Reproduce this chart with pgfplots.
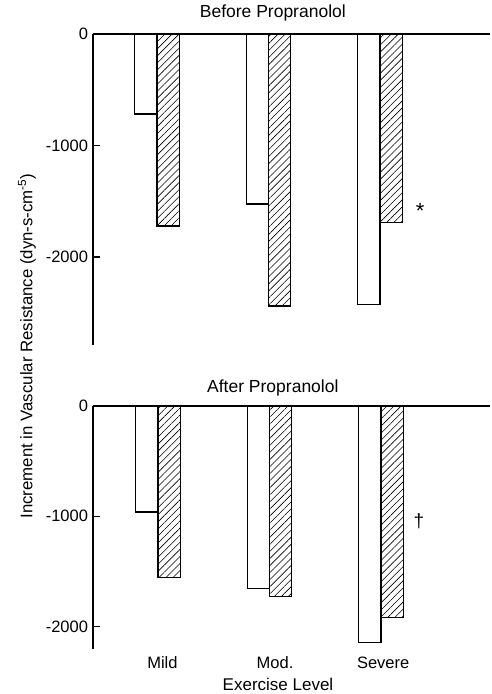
\documentclass[border=0pt]{standalone}
\usepackage{fontspec}
\setmainfont{Liberation Sans}
\usepackage{pgfplots}
\pgfplotsset{compat=1.18}
\usetikzlibrary{patterns.meta}
\begin{document}
\begin{tikzpicture}
\useasboundingbox (0pt,0pt) rectangle (491pt,694pt);
\pgfplotsset{
 myax/.style={
  scale only axis, width=397pt, anchor=south west,
  axis y line*=left, axis x line*=bottom,
  x axis line style={draw=none},
  y axis line style={line width=1.4pt},
  ybar, bar width=0.2,
  ytick={-2000,-1000,0}, yticklabels={-2000,-1000,0},
  tick align=inside, major tick length=7pt,
  major x tick style={draw=none},
  major y tick style={line width=1.3pt, black},
  ticklabel style={font=\fontsize{16.5}{19}\selectfont},
  yticklabel style={xshift=-1.5pt},
  xticklabel style={yshift=-4pt},
  title style={font=\fontsize{17.5}{20}\selectfont, anchor=base},
  label style={font=\fontsize{17}{20}\selectfont},
  clip=false,
 },
 whitebar/.style={draw=black, line width=1.2pt, fill=white},
 hatchbar/.style={draw=black, line width=1.2pt, pattern={Lines[angle=45,distance=5pt,line width=0.6pt]}},
}
% Top panel
\begin{axis}[myax, at={(93pt,349pt)}, height=311pt,
  xmin=-0.574, xmax=2.987, ymin=-2790, ymax=0, xtick=\empty,
  title={Before Propranolol}, title style={at={(0.453,1)}, yshift=10pt}]
\addplot[whitebar, bar shift=-0.1] coordinates {(0,-717) (1,-1525) (2,-2425)};
\addplot[hatchbar, bar shift=0.1] coordinates {(0,-1722) (1,-2440) (2,-1690)};
\draw[line width=1.4pt] (rel axis cs:0,1) -- (rel axis cs:1,1);
\node[font=\fontsize{22}{24}\selectfont] at (axis cs:2.36,-1590) {*};
\end{axis}
% Bottom panel
\begin{axis}[myax, at={(93pt,45pt)}, height=243pt,
  xmin=-0.583, xmax=2.978, ymin=-2205, ymax=0,
  xtick={0.04,1.05,2.02}, xticklabels={Mild,Mod.,Severe},
  title={After Propranolol}, title style={at={(0.453,1)}, yshift=7pt},
  xlabel={Exercise Level}, xlabel style={at={(0.466,0)}, anchor=base, yshift=-41pt}]
\addplot[whitebar, bar shift=-0.1] coordinates {(0,-961) (1,-1656) (2,-2145)};
\addplot[hatchbar, bar shift=0.1] coordinates {(0,-1559) (1,-1729) (2,-1919)};
\draw[line width=1.4pt] (rel axis cs:0,1) -- (rel axis cs:1,1);
\node[font=\fontsize{19}{21}\selectfont] at (axis cs:2.34,-1045) {\dag};
\end{axis}
\node[rotate=90, font=\fontsize{16.8}{19}\selectfont] at (27pt,348pt)
  {Increment in Vascular Resistance (dyn-s-cm\textsuperscript{-5})};
\end{tikzpicture}
\end{document}
